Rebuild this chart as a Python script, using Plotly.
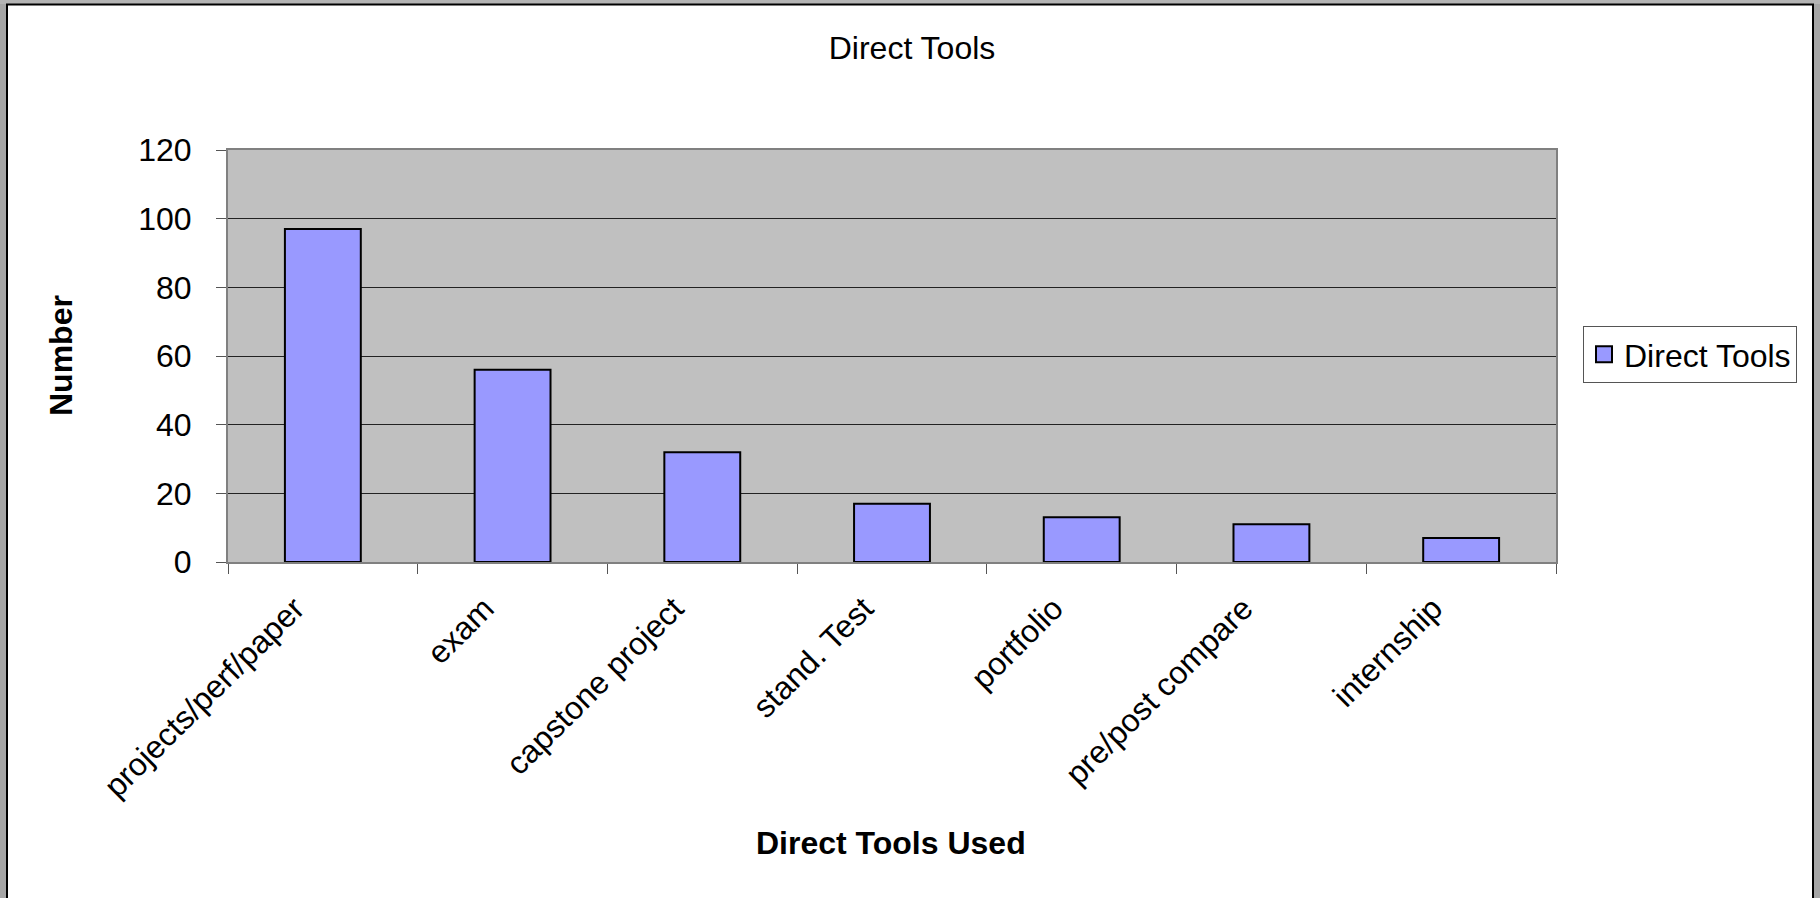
import plotly.graph_objects as go

categories = ["projects/perf/paper", "exam", "capstone project", "stand. Test",
              "portfolio", "pre/post compare", "internship"]
values = [97, 56, 32, 17, 13, 11, 7]
series_name = "Direct Tools"
chart_title = "Direct Tools"
x_title = "Direct Tools Used"
y_title = "Number"
y_ticks = [0, 20, 40, 60, 80, 100, 120]

W, H = 1820, 898
ML, MR, MT, MB = 228, 264, 150, 336
PW, PH = W - ML - MR, H - MT - MB
FONT = "Liberation Sans, Arial, sans-serif"


def px(x):
    return (x - ML) / PW


def py(y):
    return (H - MB - y) / PH


fig = go.Figure()
fig.add_trace(go.Bar(
    x=categories, y=values, name=series_name, showlegend=False,
    marker=dict(color="#9999FF", line=dict(color="#000000", width=2)),
))
fig.add_trace(go.Scatter(
    x=[None], y=[None], mode="markers", name=series_name,
    marker=dict(symbol="square", size=17, color="#9999FF",
                line=dict(color="#000000", width=2)),
))

shapes = [
    # outer window frame
    dict(type="rect", xref="paper", yref="paper", x0=px(0), x1=px(6), y0=py(H), y1=py(0),
         fillcolor="#a6a6a6", line=dict(width=0), layer="above"),
    dict(type="rect", xref="paper", yref="paper", x0=px(1814), x1=px(W), y0=py(H), y1=py(0),
         fillcolor="#a6a6a6", line=dict(width=0), layer="above"),
    dict(type="rect", xref="paper", yref="paper", x0=px(0), x1=px(W), y0=py(4), y1=py(0),
         fillcolor="#b4b4b4", line=dict(width=0), layer="above"),
    dict(type="line", xref="paper", yref="paper", x0=px(7), x1=px(7), y0=py(H), y1=py(4.5),
         line=dict(color="#000000", width=2), layer="above"),
    dict(type="line", xref="paper", yref="paper", x0=px(1813), x1=px(1813), y0=py(H), y1=py(4.5),
         line=dict(color="#000000", width=2), layer="above"),
    dict(type="line", xref="paper", yref="paper", x0=px(6), x1=px(1814), y0=py(4.5), y1=py(4.5),
         line=dict(color="#000000", width=2), layer="above"),
]

annotations = [
    dict(text=f"<b>{x_title}</b>", xref="paper", yref="paper", x=px(891), y=py(843),
         xanchor="center", yanchor="middle", showarrow=False,
         font=dict(family=FONT, size=32, color="#000000")),
    dict(text=f"<b>{y_title}</b>", xref="paper", yref="paper", x=px(61), y=0.5,
         xanchor="center", yanchor="middle", showarrow=False, textangle=-90,
         font=dict(family=FONT, size=32, color="#000000")),
]

fig.update_layout(
    width=W, height=H,
    margin=dict(l=ML, r=MR, t=MT, b=MB, autoexpand=False),
    paper_bgcolor="#ffffff", plot_bgcolor="#c0c0c0",
    font=dict(family=FONT, size=32, color="#000000"),
    title=dict(text=chart_title, x=912 / W, y=1 - 48 / H, xref="container", yref="container",
               xanchor="center", yanchor="middle",
               font=dict(family=FONT, size=32, color="#000000")),
    bargap=0.6,
    showlegend=True,
    legend=dict(x=px(1583), y=py(354.5), xanchor="left", yanchor="middle",
                bgcolor="#ffffff", bordercolor="#555555", borderwidth=1,
                font=dict(family=FONT, size=32, color="#000000")),
    shapes=shapes,
    annotations=annotations,
)
fig.update_xaxes(
    type="category", tickangle=-45, tickson="boundaries",
    ticks="outside", ticklen=10, tickcolor="#555555", tickwidth=1,
    showline=True, linecolor="#808080", linewidth=2, mirror=True,
    showgrid=False, automargin=False,
    ticklabelshift=-28, ticklabelstandoff=13,
    tickfont=dict(family=FONT, size=32, color="#000000"),
)
fig.update_yaxes(
    range=[0, 120], tickvals=y_ticks, ticks="outside", ticklen=10,
    tickcolor="#555555", tickwidth=1,
    showline=True, linecolor="#808080", linewidth=2, mirror=True,
    showgrid=True, gridcolor="#222222", gridwidth=1, zeroline=False,
    automargin=False, ticklabelstandoff=18,
    tickfont=dict(family=FONT, size=32, color="#000000"),
)

fig.write_html("out.html")
